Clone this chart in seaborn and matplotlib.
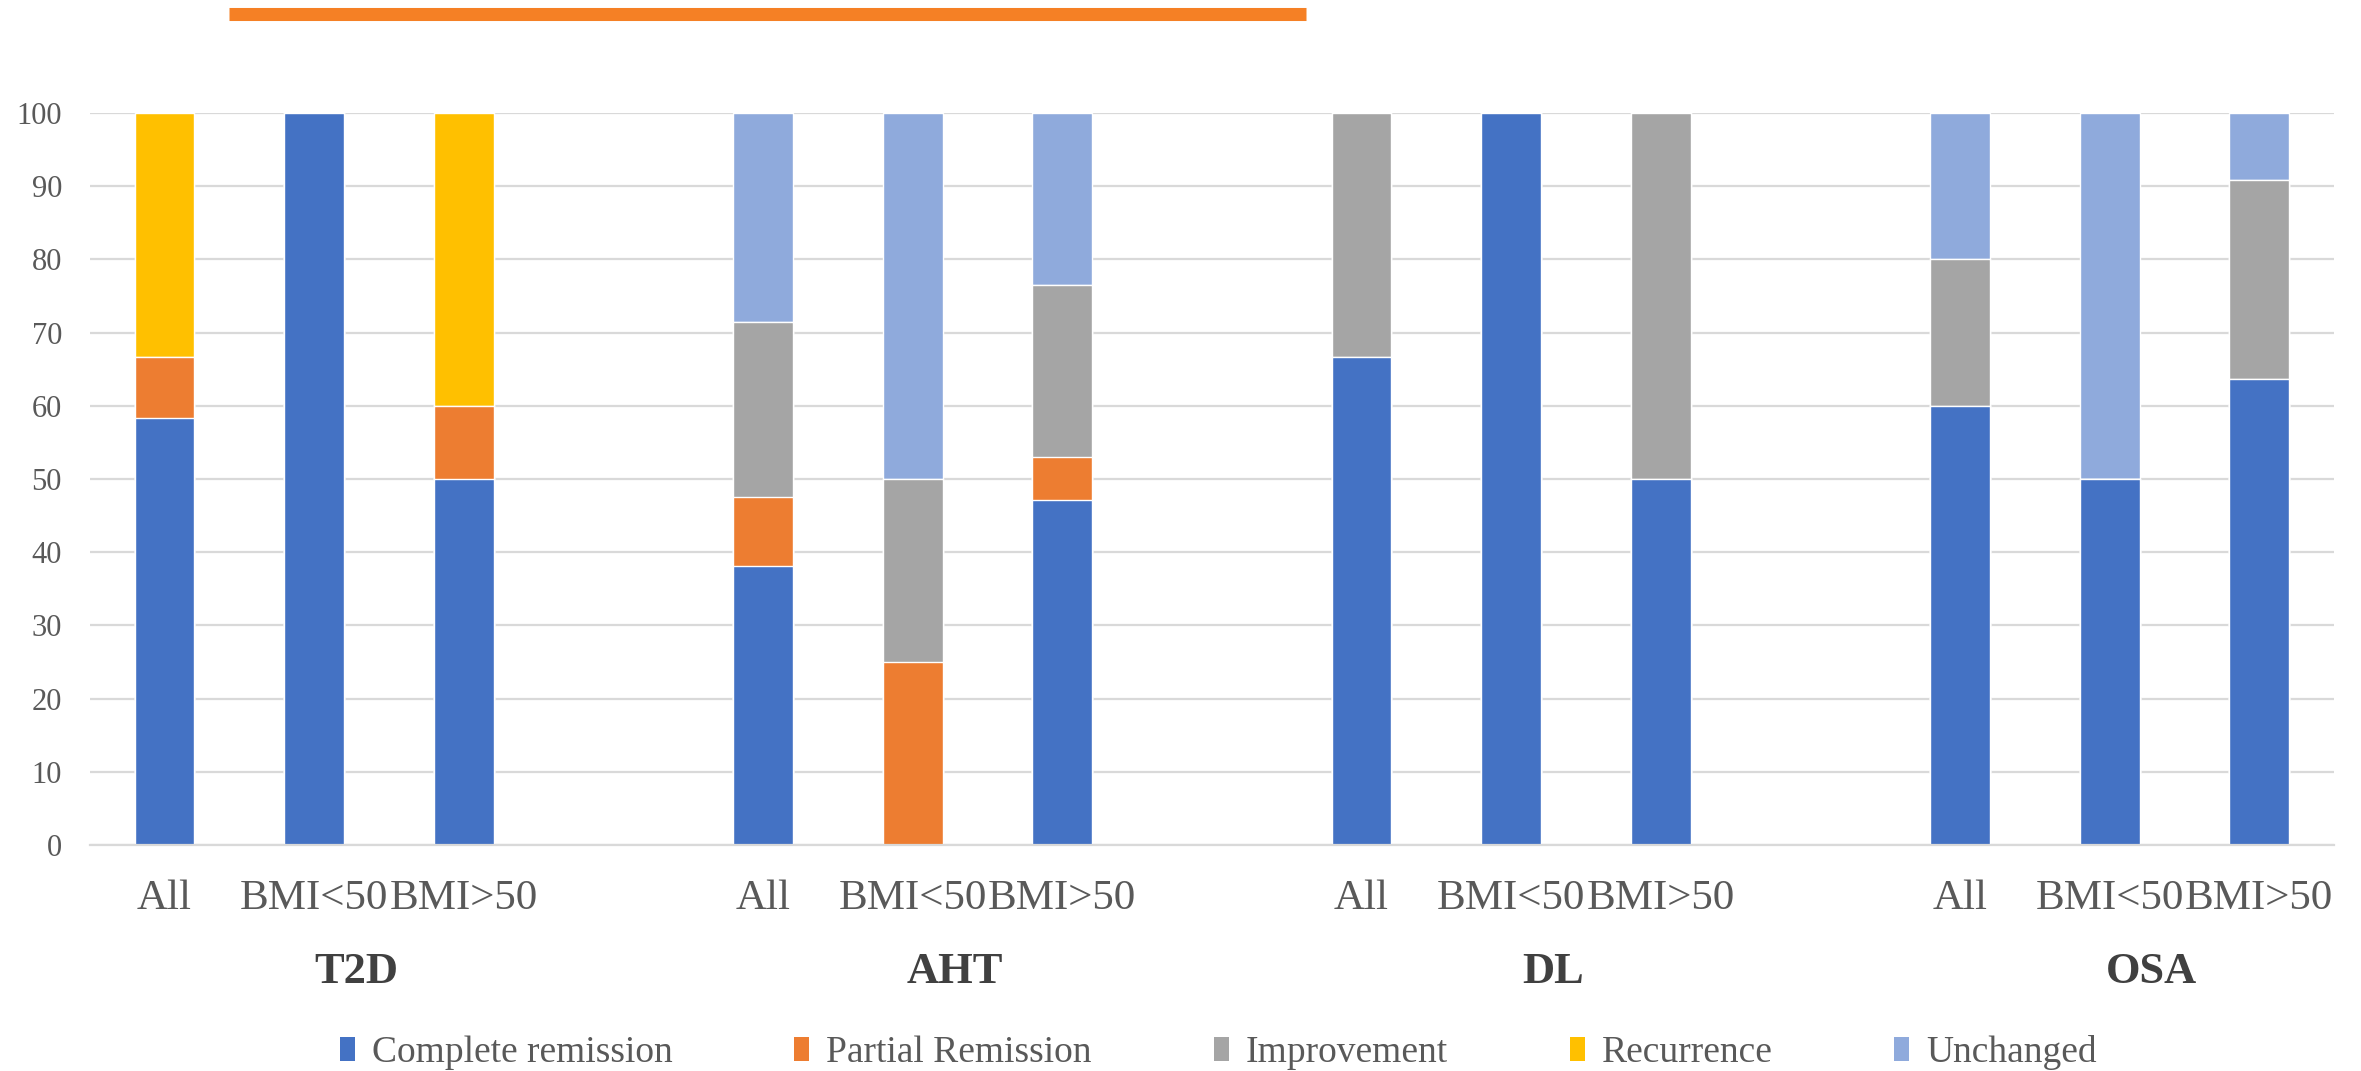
import numpy as np
import pandas as pd
import matplotlib
matplotlib.use("Agg")
import matplotlib.pyplot as plt
from matplotlib.patches import Patch
from matplotlib.lines import Line2D
import matplotlib.transforms as mtransforms
import seaborn as sns

groups = ["T2D", "AHT", "DL", "OSA"]
subgroups = ["All", "BMI<50", "BMI>50"]
series = ["Complete remission", "Partial Remission", "Improvement", "Recurrence", "Unchanged"]
colors = ["#4472C4", "#ED7D31", "#A5A5A5", "#FFC000", "#8FAADC"]

# one value per bar: T2D All/<50/>50, AHT All/<50/>50, DL ..., OSA ...
complete_remission = [58.3, 100, 50, 38.1, 0, 47.1, 66.7, 100, 50, 60, 50, 63.6]
partial_remission = [8.3, 0, 10, 9.5, 25, 5.9, 0, 0, 0, 0, 0, 0]
improvement = [0, 0, 0, 23.8, 25, 23.5, 33.3, 0, 50, 20, 0, 27.3]
recurrence = [33.4, 0, 40, 0, 0, 0, 0, 0, 0, 0, 0, 0]
unchanged = [0, 0, 0, 28.6, 50, 23.5, 0, 0, 0, 20, 50, 9.1]

sns.set_style("white")
plt.rcParams["font.family"] = ["Liberation Serif", "DejaVu Serif"]

# category slots, with an empty slot between disease groups
order = []
tick_labels = []
slots = []
for gi, g in enumerate(groups):
    for s in subgroups:
        order.append(g + "|" + s)
        tick_labels.append(s)
        slots.append(g + "|" + s)
    if gi < len(groups) - 1:
        order.append("gap%d" % gi)
        tick_labels.append("")

df = pd.DataFrame({"slot": slots,
                   series[0]: complete_remission,
                   series[1]: partial_remission,
                   series[2]: improvement,
                   series[3]: recurrence,
                   series[4]: unchanged})
cum = df[series].cumsum(axis=1)

fig = plt.figure(figsize=(23.61, 10.71), dpi=100)
ax = fig.add_axes([0.038, 0.211, 0.9506, 0.6835])

# draw cumulative heights from the top series down so they stack
for i in reversed(range(len(series))):
    sns.barplot(x=df["slot"], y=cum[series[i]], order=order, color=colors[i],
                width=0.4, saturation=1, errorbar=None, ax=ax,
                edgecolor="white", linewidth=1.0)

ax.set_ylim(0, 100)
ax.set_yticks(range(0, 101, 10))
ax.set_xlim(-0.5, len(order) - 0.5)
ax.set_xticks(range(len(order)))
ax.set_xticklabels(tick_labels)
ax.set_xlabel("")
ax.set_ylabel("")
ax.yaxis.grid(True, color="#D9D9D9", linewidth=1.6)
ax.set_axisbelow(True)
for sp in ["top", "right", "left"]:
    ax.spines[sp].set_visible(False)
ax.spines["bottom"].set_color("#D9D9D9")
ax.spines["bottom"].set_linewidth(1.6)
ax.tick_params(axis="x", length=0, pad=25, labelsize=31, labelcolor="#595959")
ax.tick_params(axis="y", length=0, pad=20, labelsize=22, labelcolor="#595959")

# disease group labels under the sub-categories
trans = mtransforms.blended_transform_factory(ax.transData, ax.transAxes)
for gi, g in enumerate(groups):
    mid = order.index(g + "|" + subgroups[1])
    ax.text(mid + 0.28, -0.173, g, transform=trans, ha="center", va="center",
            fontsize=32, fontweight="bold", color="#404040")

handles = [Patch(facecolor=c, edgecolor="none") for c in colors]
fig.legend(handles, series, loc="center", bbox_to_anchor=(0.516, 0.017), ncol=5,
           frameon=False, fontsize=27, handlelength=0.4, handleheight=0.6,
           handletextpad=0.45, columnspacing=3.25, labelcolor="#595959")

# orange rule across the top
fig.add_artist(Line2D([229 / 2361, 1306 / 2361], [0.987, 0.987], transform=fig.transFigure,
                      color="#F58025", linewidth=9.4, solid_capstyle="butt"))

fig.savefig("out.png", dpi=100)
